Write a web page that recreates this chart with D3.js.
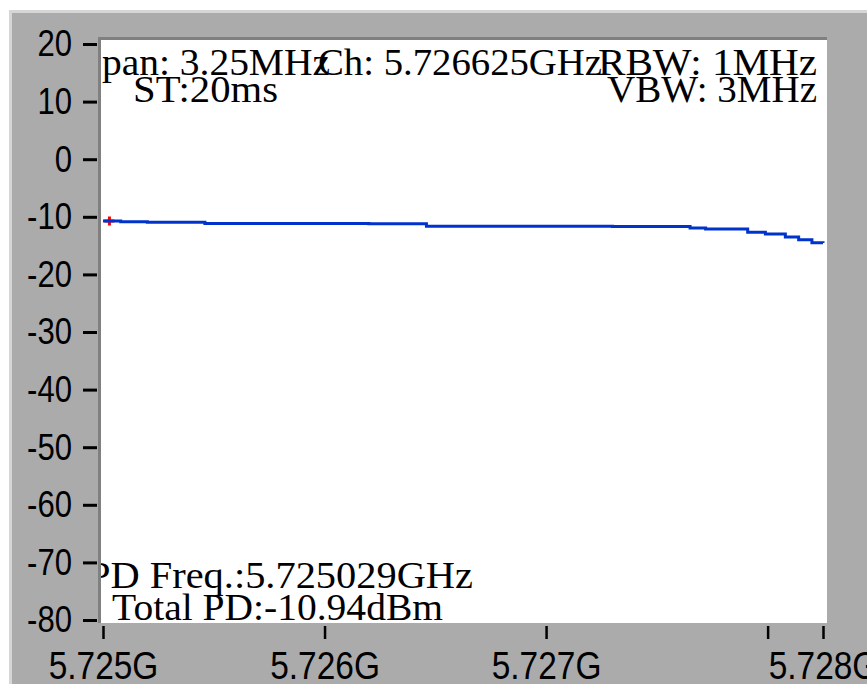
<!DOCTYPE html>
<html>
<head>
<meta charset="utf-8">
<script src="https://cdn.jsdelivr.net/npm/d3@7/dist/d3.min.js"></script>
<style>
  html, body { margin: 0; padding: 0; background: #ffffff; }
  svg { display: block; }
</style>
</head>
<body>
<svg id="chart" width="867" height="684"></svg>
<script>
// ---- data ----
const freqGHz = [5.725, 5.72508, 5.7252, 5.7253, 5.72546, 5.7258, 5.7262, 5.72646, 5.7268, 5.7270, 5.7273, 5.72765, 5.72772, 5.72791, 5.72799, 5.72808, 5.72814, 5.72820, 5.72825];
const powerDbm = [-10.75, -10.85, -10.95, -10.95, -11.15, -11.15, -11.2, -11.65, -11.65, -11.65, -11.7, -11.95, -12.1, -12.7, -13.0, -13.5, -14.0, -14.5, -14.55];
const yTicks = [20, 10, 0, -10, -20, -30, -40, -50, -60, -70, -80];
const xTickValues = [5.725, 5.726, 5.727, 5.728, 5.72825];
const xTickLabels = ["5.725G", "5.726G", "5.727G", "", "5.728G"];
const markerFreq = 5.725029;
const markerPower = -10.75;
const infoTop = [
  {text: "Span: 3.25MHz", anchor: "start", line: 0},
  {text: "Ch: 5.726625GHz", anchor: "start", line: 0},
  {text: "RBW: 1MHz", anchor: "end", line: 0},
  {text: "ST:20ms", anchor: "start", line: 1},
  {text: "VBW: 3MHz", anchor: "end", line: 1}
];
const infoBottom = ["PD Freq.:5.725029GHz", "Total PD:-10.94dBm"];

// ---- layout ----
const svg = d3.select("#chart");
const W = 867, H = 684;
const plot = {x0: 101, x1: 827, y0: 40, y1: 623};

const x = d3.scaleLinear().domain([5.725, 5.72825]).range([103, 823]);
const y = d3.scaleLinear().domain([-80, 20]).range([620, 44]);

// frame
svg.append("rect").attr("width", W).attr("height", H).attr("fill", "#ffffff");
svg.append("rect").attr("x", 9).attr("y", 10).attr("width", W - 9).attr("height", H - 10).attr("fill", "#d6d6d6");
svg.append("rect").attr("x", 12).attr("y", 13).attr("width", W - 12).attr("height", H - 13).attr("fill", "#ababab");

// plot area borders
svg.append("rect").attr("x", 98).attr("y", 37).attr("width", plot.x1 - 98).attr("height", plot.y1 - 37).attr("fill", "#808080");
svg.append("rect").attr("x", plot.x0).attr("y", plot.y0).attr("width", plot.x1 - plot.x0).attr("height", plot.y1 - plot.y0).attr("fill", "#ffffff");

svg.append("clipPath").attr("id", "plotClip")
  .append("rect").attr("x", plot.x0).attr("y", plot.y0).attr("width", plot.x1 - plot.x0).attr("height", plot.y1 - plot.y0);

function squeeze(sel, factor) {
  sel.each(function() {
    const w = this.getComputedTextLength();
    d3.select(this).attr("textLength", w * factor).attr("lengthAdjust", "spacingAndGlyphs");
  });
}

// y axis
const yAxis = svg.append("g").attr("transform", "translate(97,0)")
  .call(d3.axisLeft(y).tickValues(yTicks).tickSize(14).tickPadding(11).tickFormat(d => String(d)));
yAxis.select(".domain").remove();
yAxis.selectAll(".tick line").attr("stroke", "#000").attr("stroke-width", 3);
yAxis.selectAll(".tick text").attr("fill", "#000")
  .style("font-family", "'Liberation Sans', Arial, sans-serif").style("font-size", "37px");
squeeze(yAxis.selectAll(".tick text"), 0.84);

// x axis
const xAxis = svg.append("g").attr("transform", "translate(0,626)")
  .call(d3.axisBottom(x).tickValues(xTickValues).tickSize(13).tickPadding(13)
    .tickFormat((d, i) => xTickLabels[i]));
xAxis.select(".domain").remove();
xAxis.selectAll(".tick line").attr("stroke", "#000").attr("stroke-width", 2.5);
xAxis.selectAll(".tick text").attr("fill", "#000")
  .style("font-family", "'Liberation Sans', Arial, sans-serif").style("font-size", "38px");
squeeze(xAxis.selectAll(".tick text").filter(function() { return this.textContent.length > 0; }), 0.88);

// plot content
const g = svg.append("g").attr("clip-path", "url(#plotClip)");

// marker
const mx = x(markerFreq), my = y(markerPower);
g.append("path")
  .attr("d", `M${mx - 5},${my}H${mx + 5}M${mx},${my - 4.5}V${my + 4.5}`)
  .attr("stroke", "#ff0000").attr("stroke-width", 3).attr("fill", "none");

const data = freqGHz.map((f, i) => ({f, p: powerDbm[i]}));
g.append("path").datum(data)
  .attr("d", d3.line().x(d => x(d.f)).y(d => y(d.p)).curve(d3.curveStepAfter))
  .attr("fill", "none").attr("stroke", "#0033cc").attr("stroke-width", 3);

// info text
const serif = "'Liberation Serif', 'Times New Roman', serif";
const topPos = [
  {x: 80, len: 250}, {x: 318, len: 284}, {x: 817, len: 219}, {x: 133, len: 145}, {x: 817, len: 210}
];
const baselines = [75, 102];
infoTop.forEach((t, i) => {
  g.append("text")
    .attr("x", topPos[i].x).attr("y", baselines[t.line])
    .attr("text-anchor", t.anchor)
    .attr("textLength", topPos[i].len).attr("lengthAdjust", "spacingAndGlyphs")
    .style("font-family", serif).style("font-size", "38px").attr("fill", "#000")
    .text(t.text);
});
const botPos = [{x: 88, y: 588, len: 385}, {x: 112, y: 620, len: 331}];
infoBottom.forEach((t, i) => {
  g.append("text")
    .attr("x", botPos[i].x).attr("y", botPos[i].y)
    .attr("textLength", botPos[i].len).attr("lengthAdjust", "spacingAndGlyphs")
    .style("font-family", serif).style("font-size", "38px").attr("fill", "#000")
    .text(t);
});
</script>
</body>
</html>
